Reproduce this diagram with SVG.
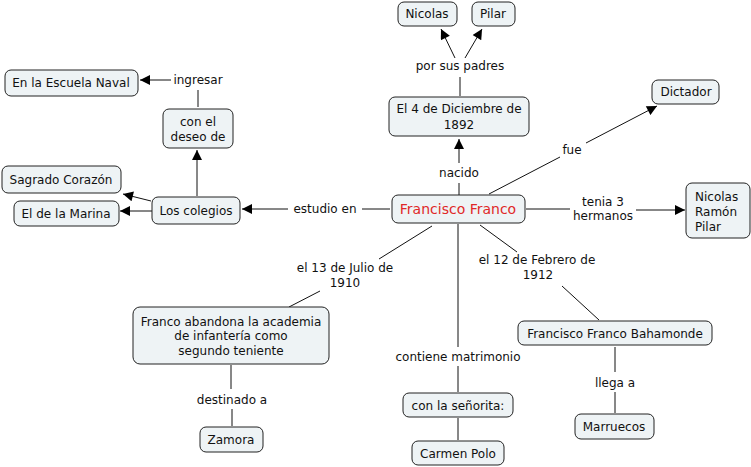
<svg xmlns="http://www.w3.org/2000/svg" width="751" height="467" viewBox="0 0 751 467">
<style>
.n rect{fill:#eef3f5;stroke:#222;stroke-width:1;}
text{font-family:"DejaVu Sans",Verdana,sans-serif;font-size:12px;fill:#111;text-anchor:middle;}
.c line{stroke:#111;stroke-width:1;}
.c .a{marker-end:url(#ar);}
</style>
<defs>
<marker id="ar" viewBox="0 0 10 10" refX="10" refY="5" markerWidth="12" markerHeight="10" markerUnits="userSpaceOnUse" orient="auto">
<path d="M0,0 L10,5 L0,10 z" fill="#000"/>
</marker>
</defs>
<rect width="751" height="467" fill="#fff"/>
<g class="c">
<!-- estudio en -->
<line x1="390" y1="209" x2="362" y2="209"/>
<line class="a" x1="288" y1="209" x2="242" y2="209"/>
<!-- Los colegios -> children -->
<line class="a" x1="151" y1="201" x2="123" y2="194"/>
<line class="a" x1="152" y1="211" x2="120" y2="211"/>
<line class="a" x1="197" y1="196" x2="197" y2="150"/>
<!-- con el deseo de - ingresar -->
<line x1="198" y1="107" x2="198" y2="90"/>
<line class="a" x1="171" y1="80" x2="140" y2="80"/>
<!-- nacido -->
<line x1="459" y1="195" x2="459" y2="183"/>
<line class="a" x1="459" y1="163" x2="459" y2="139"/>
<!-- por sus padres -->
<line x1="460" y1="96" x2="460" y2="77"/>
<line class="a" x1="455" y1="58" x2="441" y2="29"/>
<line class="a" x1="465" y1="58" x2="482" y2="29"/>
<!-- fue -->
<line x1="489" y1="194" x2="560" y2="157"/>
<line class="a" x1="586" y1="143" x2="657" y2="106"/>
<!-- tenia 3 hermanos -->
<line x1="526" y1="209" x2="570" y2="209"/>
<line class="a" x1="636" y1="210" x2="685" y2="210"/>
<!-- el 13 de Julio -->
<line x1="432" y1="226" x2="379" y2="259"/>
<line x1="320" y1="291" x2="289" y2="307"/>
<line x1="231" y1="365" x2="231" y2="389"/>
<line x1="232" y1="409" x2="232" y2="426"/>
<!-- contiene matrimonio -->
<line x1="458" y1="224" x2="458" y2="347"/>
<line x1="458" y1="366" x2="458" y2="392"/>
<line x1="458" y1="418" x2="458" y2="440"/>
<!-- el 12 de Febrero -->
<line x1="480" y1="225" x2="517" y2="252"/>
<line x1="562" y1="286" x2="599" y2="320"/>
<line x1="615" y1="347" x2="615" y2="372"/>
<line x1="615" y1="392" x2="615" y2="413"/>
</g>
<g class="lbl">
<text x="325" y="213">estudio en</text>
<text x="198" y="84">ingresar</text>
<text x="459" y="177">nacido</text>
<text x="460" y="70">por sus padres</text>
<text x="572" y="154">fue</text>
<text x="603" y="206">tenia 3</text>
<text x="603" y="220">hermanos</text>
<text x="345" y="272">el 13 de Julio de</text>
<text x="345" y="287">1910</text>
<text x="232" y="404">destinado a</text>
<text x="458" y="361">contiene matrimonio</text>
<text x="537" y="264">el 12 de Febrero de</text>
<text x="538" y="279">1912</text>
<text x="615" y="387">llega a</text>
</g>
<g id="francisco-franco" class="n"><rect x="392" y="195" width="133" height="28" rx="6"/><text x="458" y="214" style="fill:#e02828;font-size:14px">Francisco Franco</text></g>
<g id="los-colegios" class="n"><rect x="152" y="197" width="88" height="27" rx="6"/><text x="196" y="215">Los colegios</text></g>
<g id="sagrado" class="n"><rect x="2" y="166" width="119" height="27" rx="6"/><text x="61" y="184">Sagrado Corazón</text></g>
<g id="marina" class="n"><rect x="14" y="201" width="105" height="25" rx="6"/><text x="66" y="218">El de la Marina</text></g>
<g id="deseo" class="n"><rect x="163" y="109" width="70" height="39" rx="6"/><text x="198" y="126">con el</text><text x="198" y="141">deseo de</text></g>
<g id="escuela" class="n"><rect x="5" y="70" width="133" height="26" rx="6"/><text x="71" y="87">En la Escuela Naval</text></g>
<g id="diciembre" class="n"><rect x="389" y="97" width="140" height="39" rx="6"/><text x="459" y="113">El 4 de Diciembre de</text><text x="459" y="129">1892</text></g>
<g id="nicolas" class="n"><rect x="398" y="2" width="59" height="24" rx="6"/><text x="427" y="18">Nicolas</text></g>
<g id="pilar" class="n"><rect x="472" y="2" width="43" height="24" rx="6"/><text x="493" y="18">Pilar</text></g>
<g id="dictador" class="n"><rect x="652" y="80" width="67" height="24" rx="6"/><text x="686" y="96">Dictador</text></g>
<g id="hermanos" class="n"><rect x="686" y="183" width="64" height="55" rx="6"/><text x="695" y="201" style="text-anchor:start">Nicolas</text><text x="695" y="216" style="text-anchor:start">Ramón</text><text x="695" y="231" style="text-anchor:start">Pilar</text></g>
<g id="abandona" class="n"><rect x="133" y="307" width="196" height="57" rx="7"/><text x="231" y="326">Franco abandona la academia</text><text x="231" y="340">de infantería como</text><text x="231" y="355">segundo teniente</text></g>
<g id="zamora" class="n"><rect x="200" y="427" width="63" height="25" rx="6"/><text x="231" y="444">Zamora</text></g>
<g id="senorita" class="n"><rect x="403" y="393" width="110" height="24" rx="6"/><text x="458" y="410">con la señorita:</text></g>
<g id="carmen" class="n"><rect x="412" y="441" width="92" height="24" rx="6"/><text x="458" y="458">Carmen Polo</text></g>
<g id="bahamonde" class="n"><rect x="518" y="321" width="194" height="24" rx="6"/><text x="615" y="338">Francisco Franco Bahamonde</text></g>
<g id="marruecos" class="n"><rect x="575" y="414" width="79" height="25" rx="6"/><text x="614" y="431">Marruecos</text></g>
</svg>
